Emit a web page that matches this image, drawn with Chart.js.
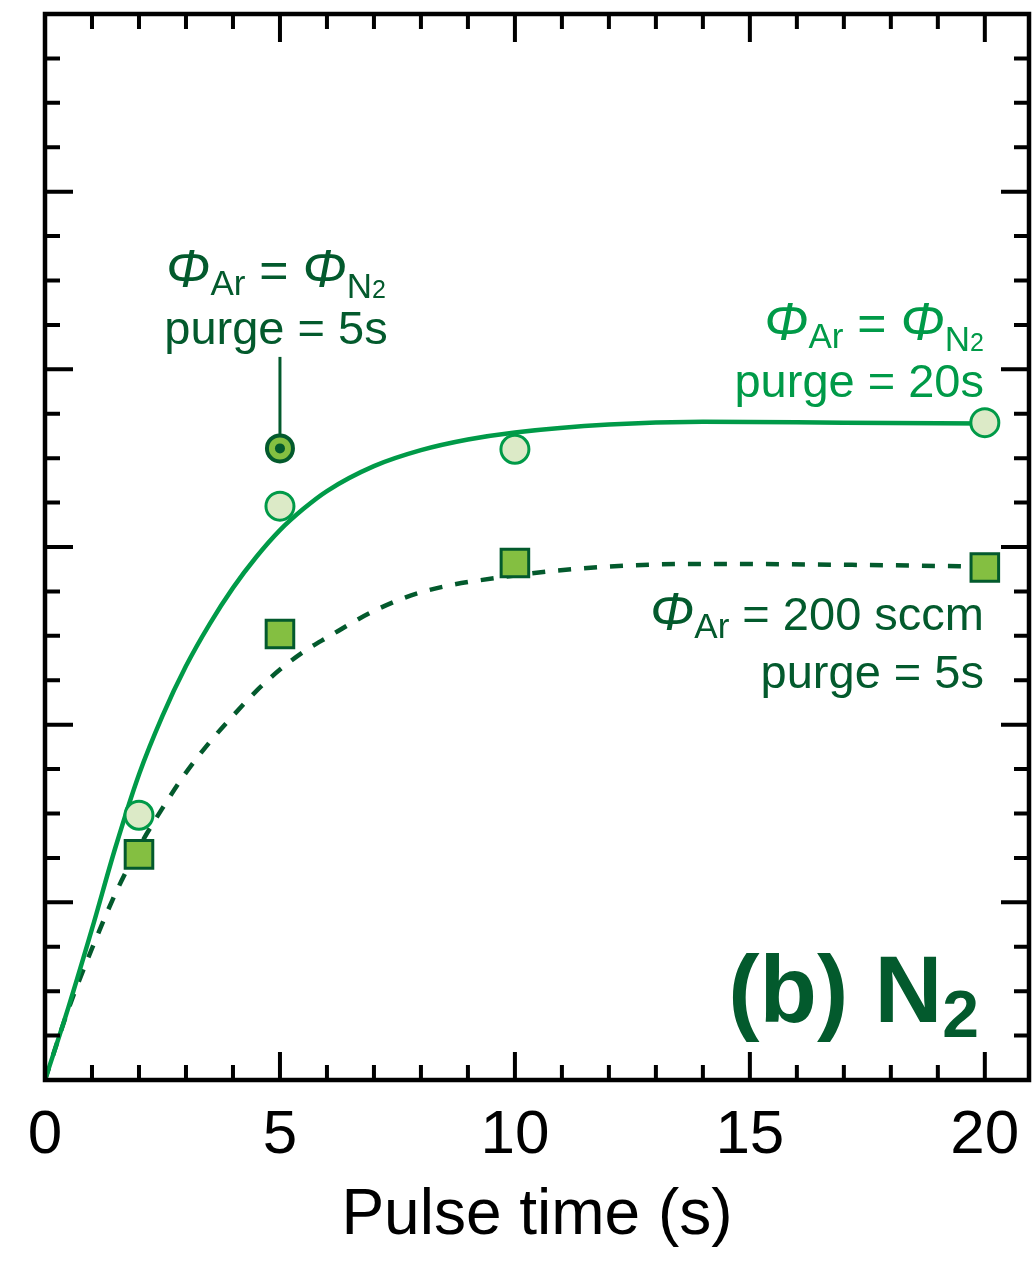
<!DOCTYPE html>
<html lang="en">
<head>
  <meta charset="UTF-8" />
  <title>Pulse time – N2</title>
  <script src="https://cdn.jsdelivr.net/npm/chart.js@4.4.0/dist/chart.umd.min.js"></script>
  <style>
    html, body { margin: 0; padding: 0; background: #fff; }
    #wrap { width: 1036px; height: 1261px; }
  </style>
</head>
<body>
  <div id="wrap"><canvas id="growthChart" width="1036" height="1261"></canvas></div>

  <script>
    // measured points
    const pulseTimes = [2, 5, 10, 20];
    const equalFlowPurge20 = [1.49, 3.23, 3.55, 3.70];
    const ar200Purge5 = [1.27, 2.51, 2.91, 2.885];
    const equalFlowPurge5Time = [5];
    const equalFlowPurge5 = [3.555];

    // fitted curves
    const fitEqualTime = [0, 0.5, 1, 1.5, 2, 2.5, 3, 3.5, 4, 4.5, 5, 5.5, 6, 7, 8, 9, 10, 12, 14, 17, 20];
    const fitEqualValue = [0, 0.41, 0.85, 1.31, 1.72, 2.05, 2.33, 2.565, 2.77, 2.945, 3.095, 3.215, 3.315, 3.455, 3.545, 3.605, 3.645, 3.69, 3.705, 3.70, 3.695];
    const fitArTime = [0, 0.5, 1, 1.5, 2, 2.5, 3, 3.5, 4, 4.5, 5, 5.5, 6, 7, 8, 10, 12, 14, 17, 20];
    const fitArValue = [0, 0.40, 0.74, 1.05, 1.31, 1.53, 1.73, 1.90, 2.05, 2.19, 2.31, 2.41, 2.49, 2.64, 2.745, 2.84, 2.89, 2.905, 2.90, 2.89];

    // leader from the label down to the purge = 5s point
    const leaderTime = [5, 5];
    const leaderValue = [3.555, 4.07];

    const xTickValues = [0, 5, 10, 15, 20];

    const GREEN = "#009a48";
    const DARK = "#035a2d";
    const PALE = "#dceac7";
    const LEAF = "#84bf41";
    const FONT = '"Liberation Sans", Arial, Helvetica, sans-serif';

    const pts = (xs, ys) => xs.map((x, i) => ({ x: x, y: ys[i] }));

    function drawParts(ctx, parts, x, y, align) {
      const widths = parts.map((p) => { ctx.font = p[1]; return ctx.measureText(p[0]).width; });
      const total = widths.reduce((a, b) => a + b, 0);
      let cx = align === "right" ? x - total : align === "center" ? x - total / 2 : x;
      parts.forEach((p, i) => {
        ctx.font = p[1];
        ctx.fillText(p[0], cx, y + (p[2] || 0));
        cx += widths[i];
      });
    }

    const main = "47px " + FONT;
    const eq = "50px " + FONT;
    const phi = "italic 53px " + FONT;
    const sub = "35px " + FONT;
    const sub2 = "25px " + FONT;
    const flowEqual = [["Φ", phi], ["Ar", sub, 8], [" = ", eq], ["Φ", phi], ["N", sub, 11], ["2", sub2, 11]];

    // frame, inward ticks on all sides, and the labels
    const framePlugin = {
      id: "frame",
      afterDatasetsDraw(chart) {
        const { ctx, chartArea: a, scales } = chart;
        const xs = scales.x, ys = scales.y;
        ctx.save();
        ctx.strokeStyle = "#000";
        ctx.lineWidth = 4;
        ctx.lineCap = "butt";
        ctx.beginPath();
        for (let v = 1; v <= 20; v++) {
          const px = xs.getPixelForValue(v);
          const len = v % 5 === 0 ? 28 : 15;
          ctx.moveTo(px, a.bottom); ctx.lineTo(px, a.bottom - len);
          ctx.moveTo(px, a.top); ctx.lineTo(px, a.top + len);
        }
        for (let k = 1; k < 24; k++) {
          const py = ys.getPixelForValue(k * 0.25);
          const len = k % 4 === 0 ? 28 : 15;
          ctx.moveTo(a.left, py); ctx.lineTo(a.left + len, py);
          ctx.moveTo(a.right, py); ctx.lineTo(a.right - len, py);
        }
        ctx.stroke();
        ctx.lineWidth = 4.5;
        ctx.strokeRect(a.left, a.top, a.right - a.left, a.bottom - a.top);

        ctx.textBaseline = "alphabetic";
        // purge = 5s label
        ctx.fillStyle = DARK;
        drawParts(ctx, flowEqual, 276, 287, "center");
        drawParts(ctx, [["purge = 5s", main]], 276, 344, "center");
        // purge = 20s label
        ctx.fillStyle = GREEN;
        drawParts(ctx, flowEqual, 984, 340, "right");
        drawParts(ctx, [["purge = 20s", main]], 984, 397, "right");
        // 200 sccm label
        ctx.fillStyle = DARK;
        drawParts(ctx, [["Φ", phi], ["Ar", sub, 8], [" = 200 sccm", main]], 984, 630, "right");
        drawParts(ctx, [["purge = 5s", main]], 984, 688, "right");
        // panel tag
        drawParts(ctx, [["(b) N", "bold 94px " + FONT], ["2", "bold 66px " + FONT, 15]], 979, 1022, "right");
        ctx.restore();
      }
    };

    new Chart(document.getElementById("growthChart").getContext("2d"), {
      type: "scatter",
      data: {
        datasets: [
          {
            data: pts(equalFlowPurge5Time, equalFlowPurge5),
            pointRadius: 5,
            pointBackgroundColor: DARK,
            pointBorderWidth: 0,
            order: -1,
          },
          {
            data: pts(equalFlowPurge5Time, equalFlowPurge5),
            pointRadius: 13,
            pointBackgroundColor: LEAF,
            pointBorderColor: DARK,
            pointBorderWidth: 4,
            order: 0,
          },
          {
            data: pts(pulseTimes, equalFlowPurge20),
            pointRadius: 14,
            pointBackgroundColor: PALE,
            pointBorderColor: GREEN,
            pointBorderWidth: 3,
            order: 0,
          },
          {
            data: pts(pulseTimes, ar200Purge5),
            pointStyle: "rect",
            pointRadius: 19.5,
            pointBackgroundColor: LEAF,
            pointBorderColor: DARK,
            pointBorderWidth: 3,
            order: 0,
          },
          {
            data: pts(leaderTime, leaderValue),
            showLine: true,
            borderColor: DARK,
            borderWidth: 3,
            pointRadius: 0,
            order: 1,
          },
          {
            data: pts(fitEqualTime, fitEqualValue),
            showLine: true,
            borderColor: GREEN,
            borderWidth: 4.5,
            pointRadius: 0,
            cubicInterpolationMode: "monotone",
            order: 2,
          },
          {
            data: pts(fitArTime, fitArValue),
            showLine: true,
            borderColor: DARK,
            borderWidth: 4.5,
            borderDash: [13, 13],
            pointRadius: 0,
            cubicInterpolationMode: "monotone",
            order: 2,
          },
        ],
      },
      options: {
        responsive: false,
        animation: false,
        events: [],
        layout: { autoPadding: false, padding: { left: 45, right: 7, top: 14, bottom: 6 } },
        plugins: { legend: { display: false }, tooltip: { enabled: false } },
        scales: {
          x: {
            type: "linear",
            min: 0,
            max: 20.94,
            grid: { display: false, drawTicks: false },
            border: { display: false },
            afterBuildTicks: (axis) => { axis.ticks = xTickValues.map((v) => ({ value: v })); },
            afterFit: (axis) => {
              axis.height = 175;
              axis.paddingLeft = 0;
              axis.paddingRight = 0;
            },
            ticks: {
              color: "#000",
              font: { family: FONT, size: 62 },
              padding: 19,
              maxRotation: 0,
              autoSkip: false,
            },
            title: {
              display: true,
              text: "Pulse time (s)",
              color: "#000",
              font: { family: FONT, size: 64 },
              padding: { top: 0, bottom: 0 },
            },
          },
          y: { type: "linear", min: 0, max: 6, display: false },
        },
      },
      plugins: [framePlugin],
    });
  </script>
</body>
</html>
